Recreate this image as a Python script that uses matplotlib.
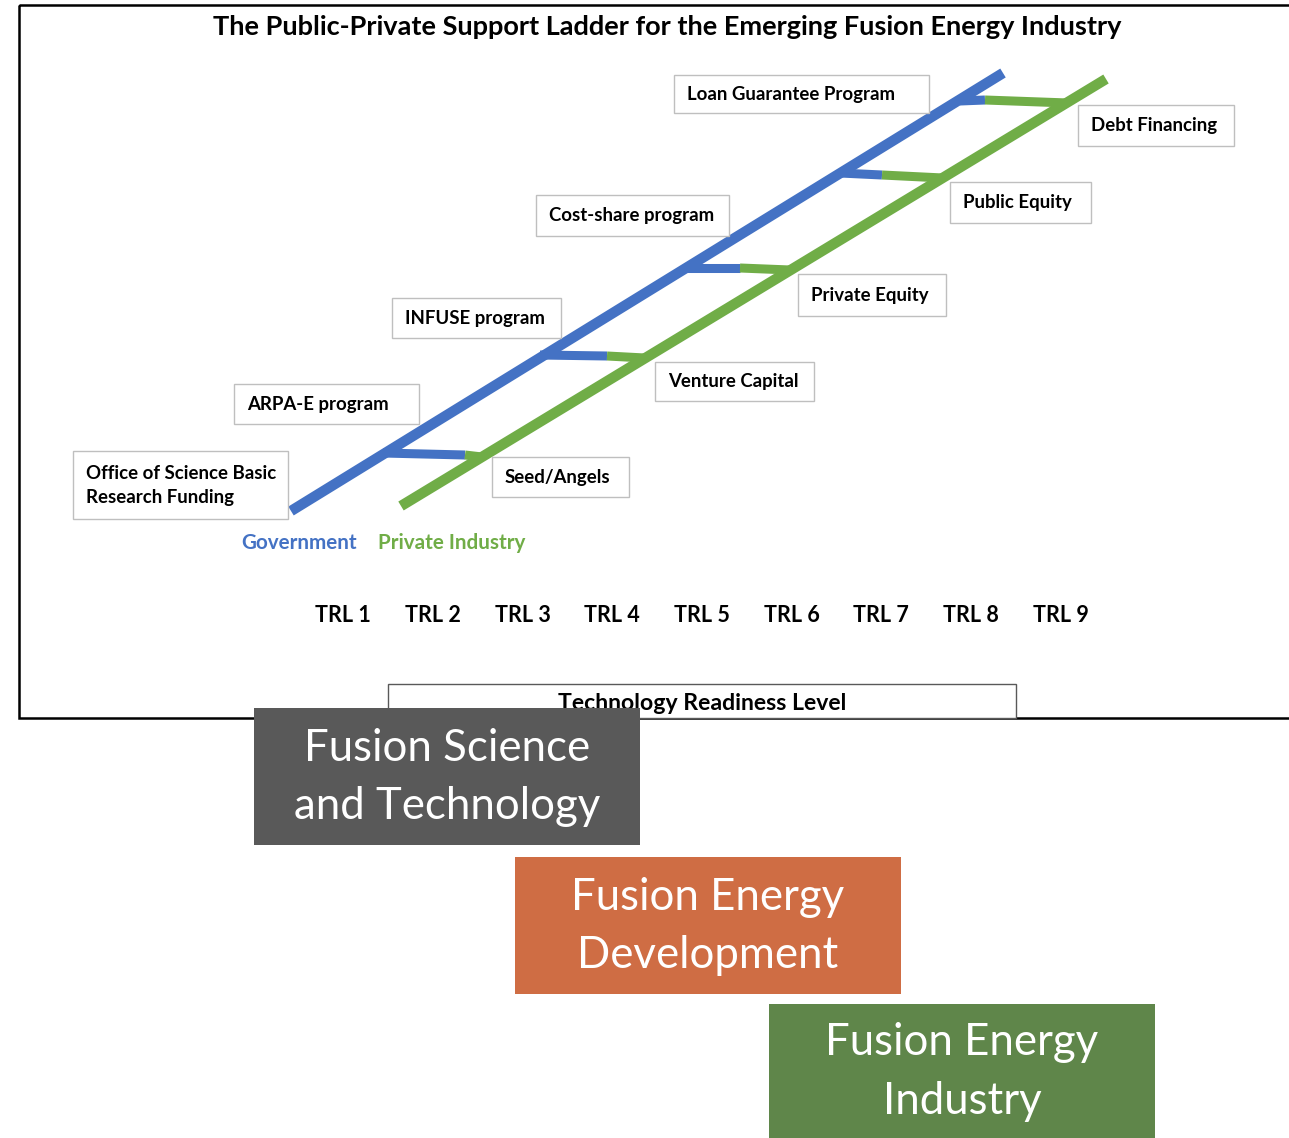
import matplotlib.pyplot as plt
from matplotlib.patches import Rectangle

# colours used in the ladder
gov_color = '#4472C4'
priv_color = '#70AD47'

# ladder rails (page pixel coordinates, y down)
gov_rail_x = [291, 1003]
gov_rail_y = [511, 73]
priv_rail_x = [401, 1106]
priv_rail_y = [506, 79]

# rungs: start on government rail, colour change point, end on private rail
rung_start_x = [383, 540, 685, 840, 960]
rung_start_y = [453, 355, 268, 173, 101]
rung_mid_x = [465, 607, 740, 882, 985]
rung_mid_y = [455, 356, 268, 175, 100]
rung_end_x = [482, 645, 790, 943, 1068]
rung_end_y = [457, 358, 270, 178, 103]

# support programs
gov_labels = ['Office of Science Basic\nResearch Funding', 'ARPA-E program',
              'INFUSE program', 'Cost-share program', 'Loan Guarantee Program']
gov_boxes = [(73, 451, 215, 68), (234, 384, 185, 40), (392, 298, 169, 40),
             (536, 195, 193, 41), (674, 75, 255, 38)]
priv_labels = ['Seed/Angels', 'Venture Capital', 'Private Equity',
               'Public Equity', 'Debt Financing']
priv_boxes = [(492, 457, 137, 40), (655, 362, 159, 39), (798, 274, 148, 42),
              (950, 182, 141, 41), (1078, 105, 156, 41)]

trl_labels = ['TRL 1', 'TRL 2', 'TRL 3', 'TRL 4', 'TRL 5', 'TRL 6', 'TRL 7', 'TRL 8', 'TRL 9']
trl_x = [343, 433, 523, 612, 702, 792, 881, 971, 1061]

stage_labels = ['Fusion Science\nand Technology', 'Fusion Energy\nDevelopment',
                'Fusion Energy\nIndustry']
stage_colors = ['#595959', '#CF6D44', '#5F864A']
stage_boxes = [(254, 708, 386, 137), (515, 857, 386, 137), (769, 1004, 386, 134)]

plt.rcParams['font.family'] = ['Lato', 'DejaVu Sans']

fig = plt.figure(figsize=(12.89, 11.38), dpi=100)
ax = fig.add_axes([0, 0, 1, 1])
ax.set_xlim(0, 1289)
ax.set_ylim(1138, 0)
ax.axis('off')

# outer frame of the chart
ax.add_patch(Rectangle((19, 5), 1300, 713, fill=False, edgecolor='black', lw=1.8, zorder=1))

ax.text(667, 27, 'The Public-Private Support Ladder for the Emerging Fusion Energy Industry',
        ha='center', va='center', fontsize=19.5, fontweight='bold')

# rails
ax.plot(gov_rail_x, gov_rail_y, color=gov_color, lw=7.5, solid_capstyle='butt', zorder=3)
ax.plot(priv_rail_x, priv_rail_y, color=priv_color, lw=7.5, solid_capstyle='butt', zorder=3)

# rungs
for i in range(len(rung_start_x)):
    ax.plot([rung_start_x[i], rung_mid_x[i]], [rung_start_y[i], rung_mid_y[i]],
            color=gov_color, lw=6.5, solid_capstyle='butt', zorder=2)
    ax.plot([rung_mid_x[i], rung_end_x[i]], [rung_mid_y[i], rung_end_y[i]],
            color=priv_color, lw=6.5, solid_capstyle='butt', zorder=2)


def label_box(box, text):
    x, y, w, h = box
    ax.add_patch(Rectangle((x, y), w, h, facecolor='white', edgecolor='#BFBFBF', lw=1, zorder=4))
    ax.text(x + 13, y + h / 2, text, ha='left', va='center', fontsize=13.4,
            fontweight='bold', linespacing=1.5, zorder=5)


for b, t in zip(gov_boxes, gov_labels):
    label_box(b, t)
for b, t in zip(priv_boxes, priv_labels):
    label_box(b, t)

ax.text(299, 543, 'Government', color=gov_color, ha='center', va='center',
        fontsize=14.9, fontweight='bold')
ax.text(452, 543, 'Private Industry', color=priv_color, ha='center', va='center',
        fontsize=14.9, fontweight='bold')

for x, t in zip(trl_x, trl_labels):
    ax.text(x, 615, t, ha='center', va='center', fontsize=15.5, fontweight='bold')

# axis title box
ax.add_patch(Rectangle((388, 684), 628, 34, facecolor='white', edgecolor='#595959', lw=1, zorder=2))
ax.text(702, 703, 'Technology Readiness Level', ha='center', va='center',
        fontsize=16.6, fontweight='bold', zorder=3)

# stage boxes below
for b, t, c in zip(stage_boxes, stage_labels, stage_colors):
    x, y, w, h = b
    ax.add_patch(Rectangle((x, y), w, h, facecolor=c, edgecolor='none', zorder=6))
    ax.text(x + w / 2, y + h / 2 + 1, t, ha='center', va='center', color='white',
            fontsize=31.5, linespacing=1.53, zorder=7)

fig.savefig('out.png', dpi=100)
